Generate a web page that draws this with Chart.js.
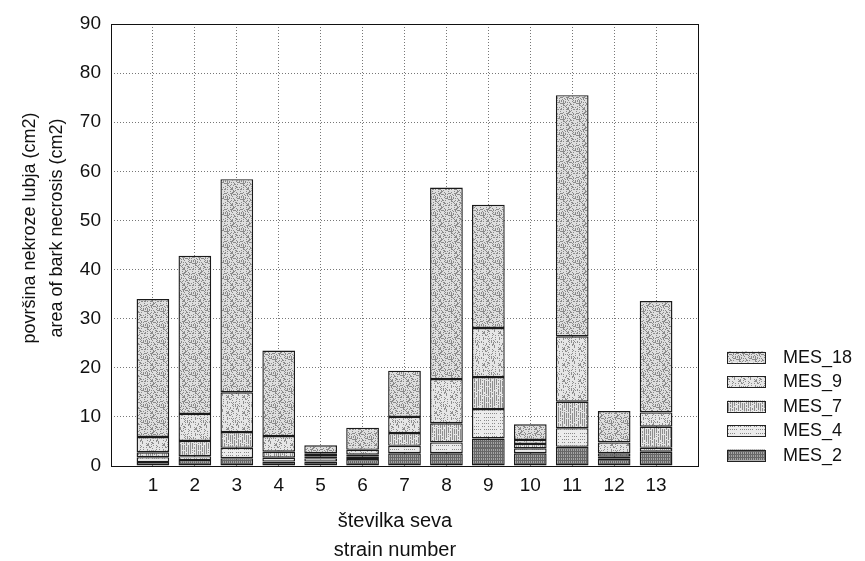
<!DOCTYPE html>
<html>
<head>
<meta charset="utf-8">
<script src="https://cdn.jsdelivr.net/npm/chart.js@4"></script>
<style>
  body { margin: 0; background: #fff; }
  #wrap { width: 865px; height: 561px; }
</style>
</head>
<body>
<div id="wrap"><canvas id="chart1" width="865" height="561"></canvas></div>
<script>
// strain numbers and the five measurement series (cm2, stacked)
var strains = ['1', '2', '3', '4', '5', '6', '7', '8', '9', '10', '11', '12', '13'];
var mes2  = [0.8, 1.2, 1.6, 0.9, 0.9, 1.4, 2.6, 2.6, 5.6, 2.6, 3.9, 1.5, 2.9];
var mes4  = [1.0, 0.8, 2.1, 0.8, 0.7, 0.5, 1.5, 2.2, 6.0, 1.0, 3.8, 0.4, 0.8];
var mes7  = [1.0, 3.1, 3.2, 1.2, 0.4, 0.4, 2.6, 3.9, 6.5, 0.9, 5.4, 0.7, 4.3];
var mes9  = [3.1, 5.5, 8.1, 3.2, 0.6, 1.0, 3.3, 9.0, 10.0, 0.8, 13.3, 2.2, 2.9];
var mes18 = [28.1, 32.2, 43.4, 17.4, 1.6, 4.5, 9.4, 39.0, 25.1, 3.2, 49.1, 6.4, 22.7];
var seriesNames = ['MES_2', 'MES_4', 'MES_7', 'MES_9', 'MES_18'];

var FONT = '"Liberation Sans", Arial, sans-serif';

// fill textures like the printed figure
function makePattern(base, draw) {
    var c = document.createElement('canvas');
    c.width = 16; c.height = 16;
    var g = c.getContext('2d');
    g.fillStyle = base;
    g.fillRect(0, 0, 16, 16);
    draw(g);
    return g.createPattern(c, 'repeat');
}
function hash(x, y) {
    var h = (x * 374761393 + y * 668265263) | 0;
    h = (h ^ (h >>> 13)) * 1274126177 | 0;
    return ((h ^ (h >>> 16)) >>> 0) % 100;
}
function stipple(dark, pct, seed) {
    return function (g) {
        g.fillStyle = dark;
        for (var y = 0; y < 16; y++)
            for (var x = 0; x < 16; x++)
                if (hash(x + seed, y) < pct) g.fillRect(x, y, 1, 1);
    };
}
var fills = [
    makePattern('#a4a4a4', function (g) {       // MES_2 dense dark
        g.fillStyle = '#666';
        for (var x = 0; x < 16; x += 2) g.fillRect(x, 0, 1, 16);
        for (var y = 0; y < 16; y += 3) g.fillRect(0, y, 16, 1);
    }),
    makePattern('#ececec', function (g) {       // MES_4 horizontal dashes
        g.fillStyle = '#8a8a8a';
        for (var y = 1; y < 16; y += 3) for (var x = 0; x < 16; x += 2) if (hash(x, y) < 70) g.fillRect(x, y, 1, 1);
    }),
    makePattern('#e4e4e4', function (g) {       // MES_7 vertical lines
        g.fillStyle = '#8e8e8e';
        for (var x = 0; x < 16; x += 2) for (var y = 0; y < 16; y++) if (hash(x, y) < 75) g.fillRect(x, y, 1, 1);
    }),
    makePattern('#e6e6e6', stipple('#8e8e8e', 28, 7)), // MES_9 stipple
    makePattern('#dedede', stipple('#8a8a8a', 36, 3))  // MES_18 stipple
];

var allSeries = [mes2, mes4, mes7, mes9, mes18];
var labels = [''].concat(strains).concat(['']);

var datasets = allSeries.map(function (vals, i) {
    return {
        label: seriesNames[i],
        data: [null].concat(vals).concat([null]),
        backgroundColor: fills[i],
        borderColor: '#1a1a1a',
        borderWidth: 1.4,
        borderSkipped: false,
        barPercentage: 0.78,
        categoryPercentage: 1.0
    };
});

// frame, axis titles and the legend drawn by hand
var decor = {
    id: 'decor',
    afterDatasetsDraw: function (chart) {
        var ctx = chart.ctx, a = chart.chartArea;
        ctx.save();
        ctx.strokeStyle = '#111';
        ctx.lineWidth = 1;
        ctx.strokeRect(Math.round(a.left) + 0.5, Math.round(a.top) + 0.5,
            Math.round(a.right - a.left), Math.round(a.bottom - a.top));

        ctx.fillStyle = '#111';
        ctx.font = '20px ' + FONT;
        ctx.textAlign = 'center';
        ctx.textBaseline = 'middle';
        ctx.fillText('številka seva', 395, 521);
        ctx.fillText('strain number', 395, 550);

        ctx.font = '18px ' + FONT;
        ctx.save();
        ctx.translate(30, 228);
        ctx.rotate(-Math.PI / 2);
        ctx.fillText('površina nekroze lubja (cm2)', 0, 0);
        ctx.restore();
        ctx.save();
        ctx.translate(57, 228);
        ctx.rotate(-Math.PI / 2);
        ctx.fillText('area of bark necrosis (cm2)', 0, 0);
        ctx.restore();

        ctx.textAlign = 'left';
        ctx.font = '18px ' + FONT;
        for (var k = 0; k < seriesNames.length; k++) {
            var idx = seriesNames.length - 1 - k;
            var cy = 357 + k * 24.5;
            ctx.fillStyle = fills[idx];
            ctx.fillRect(727, cy - 5.5, 38, 11);
            ctx.strokeStyle = '#222';
            ctx.strokeRect(727.5, Math.round(cy - 5.5) + 0.5, 38, 11);
            ctx.fillStyle = '#111';
            ctx.fillText(seriesNames[idx], 783, cy + 1);
        }
        ctx.restore();
    }
};

var ctx = document.getElementById('chart1').getContext('2d');
var chart = new Chart(ctx, {
    type: 'bar',
    data: { labels: labels, datasets: datasets },
    plugins: [decor],
    options: {
        responsive: false,
        animation: false,
        layout: { padding: { left: 0, right: 167, top: 24, bottom: 0 } },
        plugins: {
            legend: { display: false },
            tooltip: { enabled: false }
        },
        scales: {
            x: {
                stacked: true,
                offset: false,
                afterFit: function (scale) { scale.height = 95; },
                grid: { offset: false, color: '#777', lineWidth: 1, drawTicks: false },
                border: { display: false, dash: [1, 2] },
                ticks: { color: '#111', font: { family: FONT, size: 19 }, padding: 8, maxRotation: 0, autoSkip: false }
            },
            y: {
                stacked: true,
                min: 0,
                max: 90,
                afterFit: function (scale) { scale.width = 111; },
                grid: { color: '#777', lineWidth: 1, drawTicks: false },
                border: { display: false, dash: [1, 2] },
                ticks: { stepSize: 10, color: '#111', font: { family: FONT, size: 19 }, padding: 10 }
            }
        }
    }
});
</script>
</body>
</html>
